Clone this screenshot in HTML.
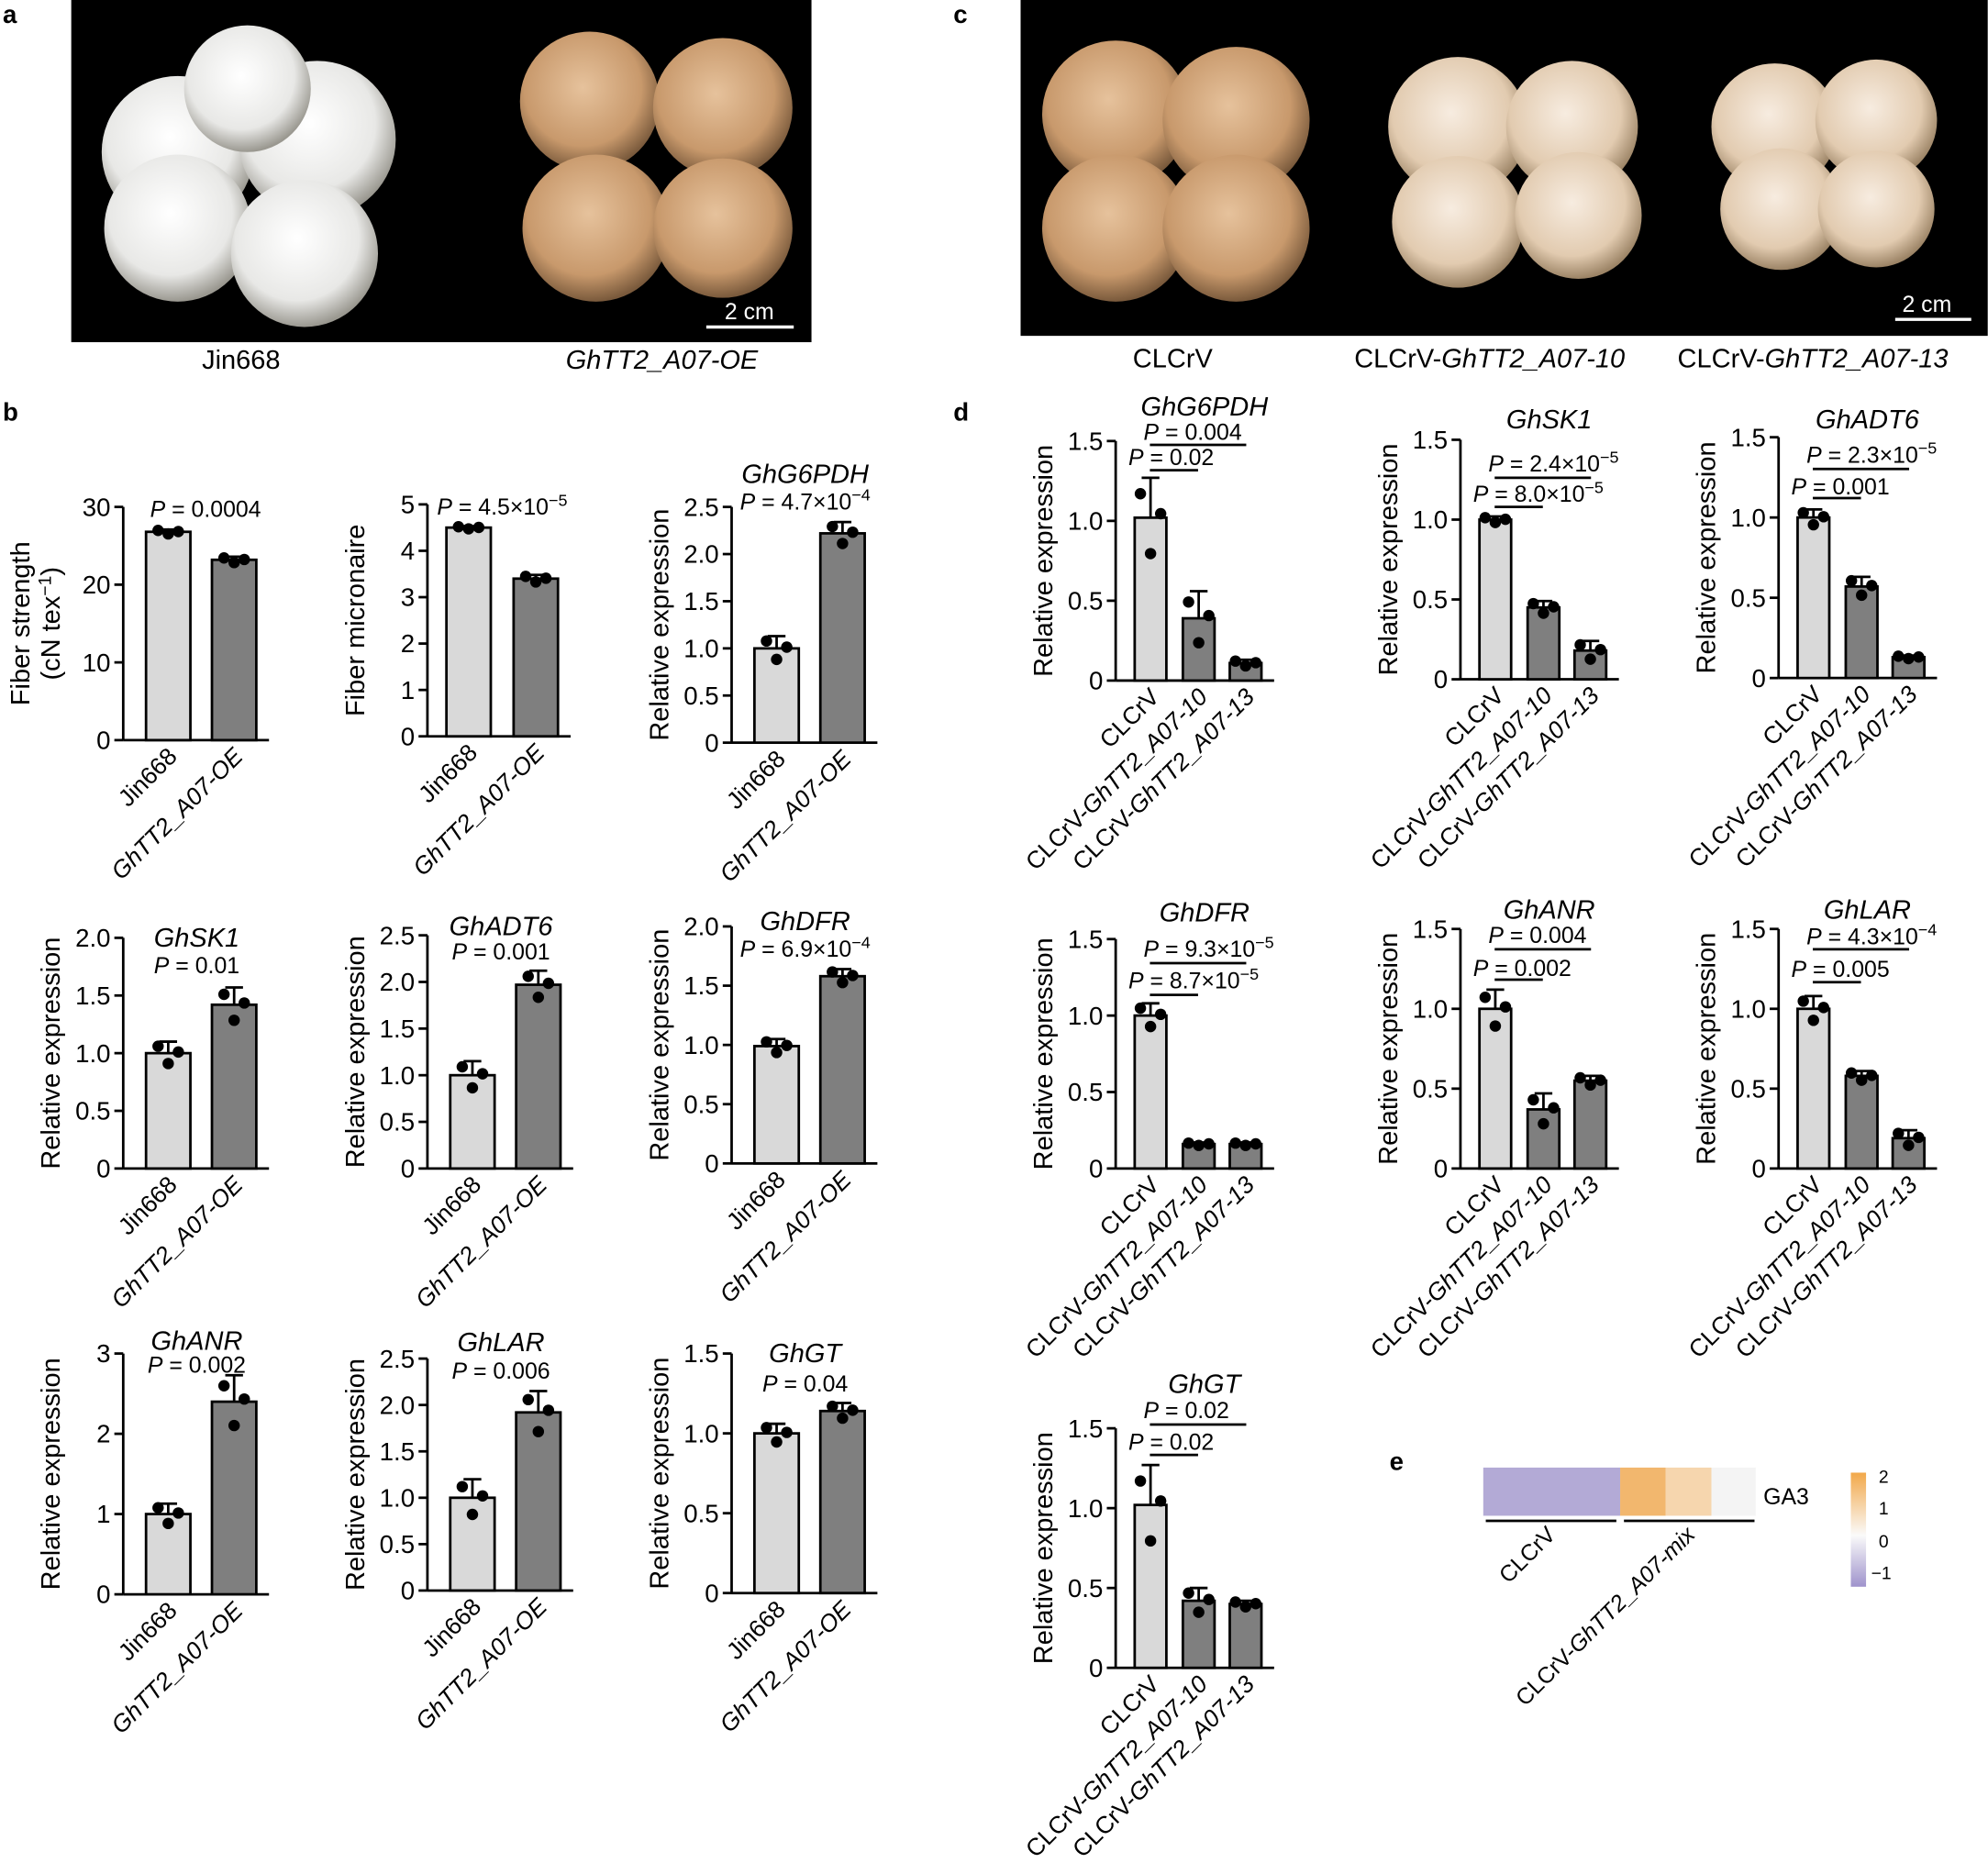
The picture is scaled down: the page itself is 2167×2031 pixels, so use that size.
<!DOCTYPE html>
<html><head><meta charset="utf-8"><style>html,body{margin:0;padding:0;background:#fff}svg{display:block}</style></head>
<body>
<svg id="s" xmlns="http://www.w3.org/2000/svg" width="2167" height="2031" viewBox="0 0 1568 1470" font-family="Liberation Sans, Arial, sans-serif">
<defs>
<radialGradient id="wh" cx="45%" cy="40%" r="60%"><stop offset="0" stop-color="#fff"/><stop offset="0.7" stop-color="#e8e8e6"/><stop offset="1" stop-color="#9a9890"/></radialGradient>
<radialGradient id="tn" cx="45%" cy="40%" r="60%"><stop offset="0" stop-color="#e6c29c"/><stop offset="0.7" stop-color="#c8996c"/><stop offset="1" stop-color="#7a5a3c"/></radialGradient>
<radialGradient id="lt" cx="45%" cy="40%" r="60%"><stop offset="0" stop-color="#f7ece0"/><stop offset="0.7" stop-color="#e2cbb0"/><stop offset="1" stop-color="#9c8466"/></radialGradient>
</defs>
<rect x="56" y="0" width="584" height="270" fill="#000"/>
<circle cx="140" cy="120" r="60" fill="url(#wh)"/><circle cx="250" cy="110" r="62" fill="url(#wh)"/>
<circle cx="140" cy="180" r="58" fill="url(#wh)"/><circle cx="240" cy="200" r="58" fill="url(#wh)"/><circle cx="195" cy="70" r="50" fill="url(#wh)"/>
<circle cx="465" cy="80" r="55" fill="url(#tn)"/><circle cx="570" cy="85" r="55" fill="url(#tn)"/>
<circle cx="470" cy="180" r="58" fill="url(#tn)"/><circle cx="570" cy="180" r="55" fill="url(#tn)"/>
<line x1="557" y1="258" x2="626" y2="258" stroke="#fff" stroke-width="2.5"/><text x="591" y="252" fill="#fff" font-size="18" text-anchor="middle">2 cm</text>
<rect x="805" y="0" width="763" height="265" fill="#000"/>
<circle cx="880" cy="90" r="58" fill="url(#tn)"/><circle cx="975" cy="95" r="58" fill="url(#tn)"/><circle cx="880" cy="180" r="58" fill="url(#tn)"/><circle cx="975" cy="180" r="58" fill="url(#tn)"/>
<circle cx="1150" cy="100" r="55" fill="url(#lt)"/><circle cx="1240" cy="100" r="52" fill="url(#lt)"/><circle cx="1150" cy="175" r="52" fill="url(#lt)"/><circle cx="1245" cy="170" r="50" fill="url(#lt)"/>
<circle cx="1400" cy="100" r="50" fill="url(#lt)"/><circle cx="1480" cy="95" r="48" fill="url(#lt)"/><circle cx="1405" cy="165" r="48" fill="url(#lt)"/><circle cx="1480" cy="165" r="46" fill="url(#lt)"/>
<line x1="1495" y1="252" x2="1555" y2="252" stroke="#fff" stroke-width="2.5"/><text x="1520" y="246" fill="#fff" font-size="18" text-anchor="middle">2 cm</text>
<g font-size="21">
<text x="190" y="291" text-anchor="middle">Jin668</text><text x="522" y="291" text-anchor="middle" font-style="italic">GhTT2_A07-OE</text>
<text x="925" y="290" text-anchor="middle">CLCrV</text>
<text x="1175" y="290" text-anchor="middle">CLCrV-<tspan font-style="italic">GhTT2_A07-10</tspan></text>
<text x="1430" y="290" text-anchor="middle">CLCrV-<tspan font-style="italic">GhTT2_A07-13</tspan></text>
</g>
<g font-weight="bold" font-size="20"><text x="2" y="18">a</text><text x="752" y="18">c</text><text x="2" y="332">b</text><text x="752" y="332">d</text><text x="1096" y="1160">e</text></g>
<g id="charts"></g>
<rect x="1170" y="1158" width="108" height="38" fill="#b3aad6"/>
<rect x="1278" y="1158" width="36" height="38" fill="#f2b76e"/>
<rect x="1314" y="1158" width="36" height="38" fill="#f6d6ae"/>
<rect x="1350" y="1158" width="35" height="38" fill="#f4f4f4"/>
<text x="1391" y="1187" font-size="18">GA3</text>
<line x1="1172" y1="1200" x2="1275" y2="1200" stroke="#000" stroke-width="2"/>
<line x1="1281" y1="1200" x2="1384" y2="1200" stroke="#000" stroke-width="2"/>
<text transform="translate(1228,1212) rotate(-45)" text-anchor="end" font-size="18">CLCrV</text>
<text transform="translate(1338,1212) rotate(-45)" text-anchor="end" font-size="18">CLCrV-<tspan font-style="italic">GhTT2_A07-mix</tspan></text>
<defs><linearGradient id="cb" x1="0" y1="0" x2="0" y2="1"><stop offset="0" stop-color="#f2a84a"/><stop offset="0.55" stop-color="#fafafa"/><stop offset="1" stop-color="#9f93cc"/></linearGradient></defs>
<rect x="1460" y="1162" width="12" height="90" fill="url(#cb)"/>
<g font-size="14"><text x="1482" y="1170">2</text><text x="1482" y="1195">1</text><text x="1482" y="1221">0</text><text x="1476" y="1246">−1</text></g>
</svg>
<script>
var g=document.getElementById('charts'),h='';
var L='#d9d9d9',D='#7f7f7f';
function dec(t){return t==0?'0':t.toFixed(1);}
function fmt(t){return (Math.round(t*10)/10).toString();}
function chart(c){
 var ax=c.ax,y0=c.y0,yt=c.yt,mx=c.mx,sc=(y0-yt)/mx;
 h+='<line x1="'+ax+'" y1="'+yt+'" x2="'+ax+'" y2="'+y0+'" stroke="#000" stroke-width="2"/>';
 var xe=c.bars[c.bars.length-1].x+c.bars[c.bars.length-1].w+10;
 h+='<line x1="'+ax+'" y1="'+y0+'" x2="'+xe+'" y2="'+y0+'" stroke="#000" stroke-width="2"/>';
 c.ticks.forEach(function(t){var y=y0-t*sc;h+='<line x1="'+(ax-7)+'" y1="'+y+'" x2="'+ax+'" y2="'+y+'" stroke="#000" stroke-width="2"/><text x="'+(ax-10)+'" y="'+(y+7)+'" font-size="20" text-anchor="end">'+(c.tl?c.tl(t):fmt(t))+'</text>';});
 c.bars.forEach(function(b){var top=y0-b.v*sc,cx=b.x+b.w/2,e=y0-(b.v+b.e)*sc;
  h+='<rect x="'+b.x+'" y="'+top+'" width="'+b.w+'" height="'+(y0-top)+'" fill="'+b.c+'" stroke="#000" stroke-width="2"/>';
  h+='<line x1="'+cx+'" y1="'+top+'" x2="'+cx+'" y2="'+e+'" stroke="#000" stroke-width="2"/><line x1="'+(cx-7)+'" y1="'+e+'" x2="'+(cx+7)+'" y2="'+e+'" stroke="#000" stroke-width="2"/>';
  var p=b.p||[b.v+b.e*0.6,b.v-b.e*0.9,b.v+0.1*b.e];
  [[-8,p[0]],[8,p[2]],[0,p[1]]].forEach(function(q){h+='<circle cx="'+(cx+q[0])+'" cy="'+(y0-q[1]*sc)+'" r="4.5" fill="#000"/>';});
  h+='<text transform="translate('+(cx+8)+','+(y0+14)+') rotate(-45)" text-anchor="end" font-size="19">'+b.l+'</text>';
 });
 var my=(yt+y0)/2;
 h+='<text transform="translate('+(ax-50)+','+my+') rotate(-90)" text-anchor="middle" font-size="21">'+(c.yl||'Relative expression')+'</text>';
 if(c.yl2)h+='<text transform="translate('+(ax-74)+','+my+') rotate(-90)" text-anchor="middle" font-size="21">'+c.yl2+'</text>';
 h+=c.extra||'';
}
function two(ax,y0,yt,mx,ticks,v1,e1,v2,e2,title,P,ty,py,tl){
 chart({ax:ax,y0:y0,yt:yt,mx:mx,ticks:ticks,tl:tl||dec,bars:[{x:ax+18,w:35,v:v1,e:e1,c:L,l:'Jin668'},{x:ax+70,w:35,v:v2,e:e2,c:D,l:'<tspan font-style="italic">GhTT2_A07-OE</tspan>'}],
 extra:(title?'<text x="'+(ax+58)+'" y="'+ty+'" font-size="21" font-style="italic" text-anchor="middle">'+title+'</text>':'')+'<text x="'+(ax+58)+'" y="'+py+'" font-size="18" text-anchor="middle">'+P+'</text>'});
}
var T5=[0,0.5,1,1.5,2,2.5];
chart({ax:97,y0:584,yt:400,mx:30,ticks:[0,10,20,30],yl:'(cN tex<tspan dy="-7" font-size="14">−1</tspan><tspan dy="7">)</tspan>',yl2:'Fiber strength',
 bars:[{x:115,w:35,v:26.8,e:0.3,c:L,l:'Jin668'},{x:167,w:35,v:23.2,e:0.4,c:D,l:'<tspan font-style="italic">GhTT2_A07-OE</tspan>'}],
 extra:'<text x="162" y="408" font-size="18" text-anchor="middle"><tspan font-style="italic">P</tspan> = 0.0004</text>'});
chart({ax:337,y0:581,yt:398,mx:5,ticks:[0,1,2,3,4,5],yl:'Fiber micronaire',
 bars:[{x:352,w:35,v:4.5,e:0.03,c:L,l:'Jin668'},{x:405,w:35,v:3.4,e:0.08,c:D,l:'<tspan font-style="italic">GhTT2_A07-OE</tspan>'}],
 extra:'<text x="396" y="406" font-size="18" text-anchor="middle"><tspan font-style="italic">P</tspan> = 4.5×10<tspan dy="-7" font-size="13">−5</tspan></text>'});
var Pi='<tspan font-style="italic">P</tspan>';
function sup(a,b){return Pi+' = '+a+'×10<tspan dy="-7" font-size="13">'+b+'</tspan>';}
two(577,586,400,2.5,T5,1.0,0.13,2.22,0.12,'GhG6PDH',sup('4.7','−4'),381,402);
two(97,922,740,2.0,[0,0.5,1,1.5,2],1.0,0.1,1.42,0.15,'GhSK1',Pi+' = 0.01',747,768);
two(337,922,738,2.5,T5,1.0,0.15,1.97,0.15,'GhADT6',Pi+' = 0.001',738,757);
two(577,918,731,2.0,[0,0.5,1,1.5,2],0.99,0.06,1.58,0.06,'GhDFR',sup('6.9','−4'),734,755);
two(97,1258,1068,3,[0,1,2,3],1.0,0.13,2.4,0.33,'GhANR',Pi+' = 0.002',1065,1083,fmt);
two(337,1255,1072,2.5,T5,1.0,0.2,1.92,0.23,'GhLAR',Pi+' = 0.006',1066,1088);
two(577,1257,1068,1.5,[0,0.5,1,1.5],1.0,0.06,1.14,0.05,'GhGT',Pi+' = 0.04',1075,1098);
var T15=[0,0.5,1,1.5];
function three(ax,y0,yt,v,e,title,ty,P1,P2,p1y,p2y,l1y,l2y){
 var lab=['CLCrV','CLCrV-<tspan font-style="italic">GhTT2_A07-10</tspan>','CLCrV-<tspan font-style="italic">GhTT2_A07-13</tspan>'];
 var xs=[ax+15,ax+53,ax+90],bs=[];
 for(var i=0;i<3;i++)bs.push({x:xs[i],w:25,v:v[i],e:e[i],c:i?D:L,l:lab[i]});
 var ex='<text x="'+(ax+70)+'" y="'+ty+'" font-size="21" font-style="italic" text-anchor="middle">'+title+'</text>';
 ex+='<line x1="'+(ax+27)+'" y1="'+l1y+'" x2="'+(ax+103)+'" y2="'+l1y+'" stroke="#000" stroke-width="2"/>';
 ex+='<line x1="'+(ax+27)+'" y1="'+l2y+'" x2="'+(ax+65)+'" y2="'+l2y+'" stroke="#000" stroke-width="2"/>';
 ex+='<text x="'+(ax+22)+'" y="'+p1y+'" font-size="18">'+P1+'</text><text x="'+(ax+10)+'" y="'+p2y+'" font-size="18">'+P2+'</text>';
 chart({ax:ax,y0:y0,yt:yt,mx:1.5,ticks:T15,tl:dec,bars:bs,extra:ex});
}
three(880,537,348,[1.02,0.39,0.11],[0.25,0.17,0.02],'GhG6PDH',328,Pi+' = 0.004',Pi+' = 0.02',347,367,351,371);
three(1152,536,347,[1.0,0.45,0.18],[0.02,0.04,0.06],'GhSK1',338,sup('2.4','−5'),sup('8.0','−5'),372,396,377,400);
three(1403,535,345,[1.0,0.57,0.13],[0.05,0.06,0.01],'GhADT6',338,sup('2.3','−5'),Pi+' = 0.001',365,390,370,393);
three(880,922,741,[1.0,0.16,0.16],[0.08,0.01,0.01],'GhDFR',727,sup('9.3','−5'),sup('8.7','−5'),755,780,760,785);
three(1152,922,733,[1.0,0.37,0.55],[0.12,0.1,0.03],'GhANR',725,Pi+' = 0.004',Pi+' = 0.002',744,770,749,773);
three(1403,922,733,[1.0,0.58,0.19],[0.08,0.03,0.05],'GhLAR',725,sup('4.3','−4'),Pi+' = 0.005',745,771,749,775);
three(880,1316,1127,[1.02,0.42,0.4],[0.25,0.08,0.02],'GhGT',1099,Pi+' = 0.02',Pi+' = 0.02',1119,1144,1124,1148);
g.innerHTML=h;
</script>
</body></html>
